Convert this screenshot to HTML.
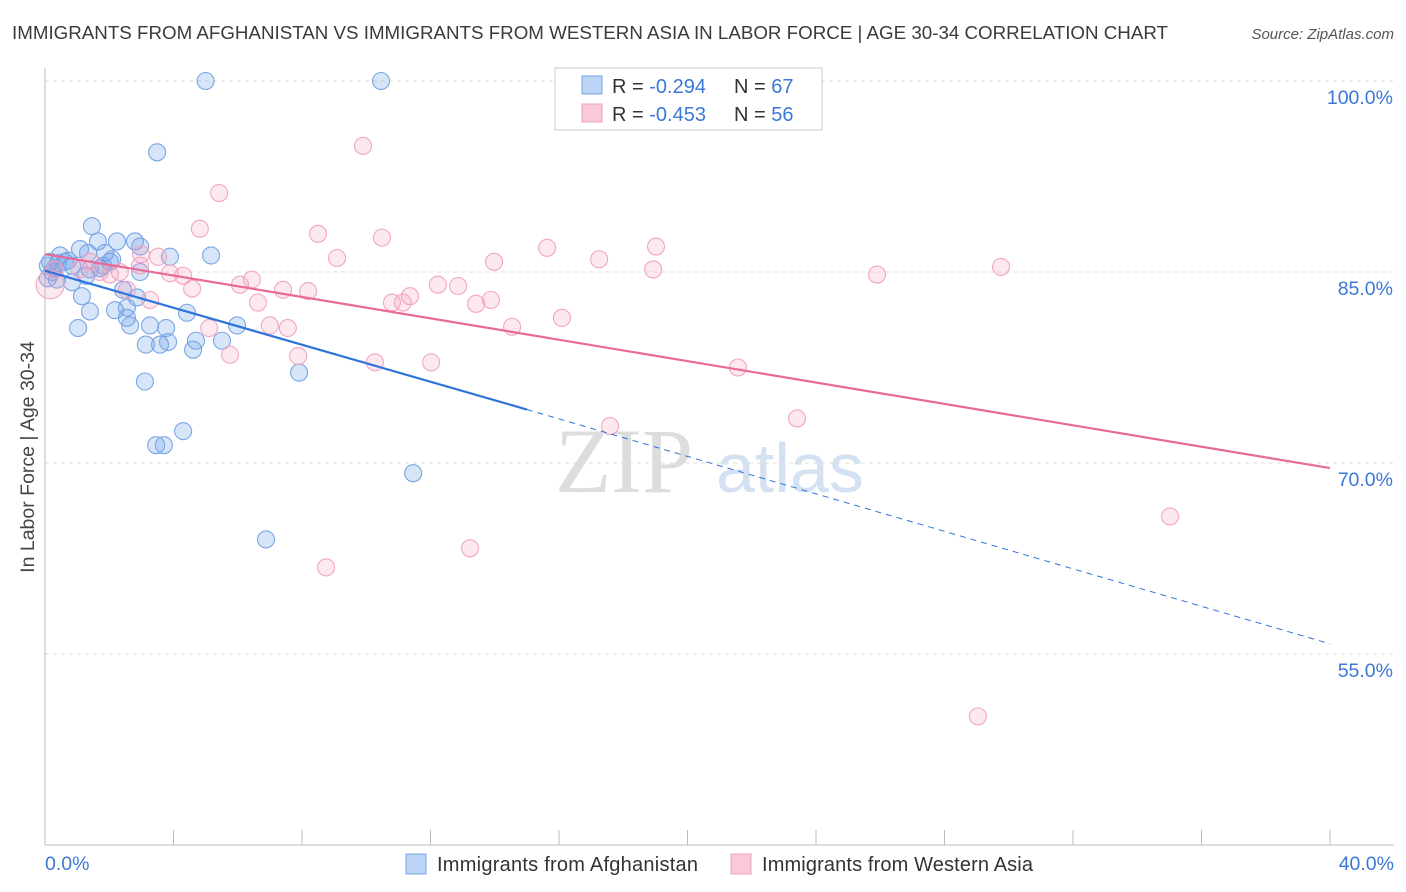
<!DOCTYPE html>
<html><head><meta charset="utf-8"><style>
body{margin:0;background:#fff;font-family:"Liberation Sans",sans-serif;}
svg{display:block}
</style></head><body>
<svg id="chart" width="1406" height="892" xmlns="http://www.w3.org/2000/svg">
<text x="12" y="39" font-size="18" textLength="1156" lengthAdjust="spacingAndGlyphs" fill="#3a3a3a" font-family="Liberation Sans, sans-serif">IMMIGRANTS FROM AFGHANISTAN VS IMMIGRANTS FROM WESTERN ASIA IN LABOR FORCE | AGE 30-34 CORRELATION CHART</text>
<text x="1394" y="39" font-size="15" fill="#555" text-anchor="end" font-style="italic">Source: ZipAtlas.com</text>
<text transform="translate(34,457) rotate(-90)" font-size="19.5" fill="#444" text-anchor="middle">In Labor Force | Age 30-34</text>
<text x="555" y="492" font-size="92" fill="#ddd" font-family="Liberation Serif, serif">ZIP</text>
<text x="716" y="492" font-size="70" fill="#d3e1f3">atlas</text>
<g id="grid"></g><g id="marks"></g><g id="trends"></g>
<g>
<rect x="555" y="68" width="267" height="62" fill="#fff" stroke="#ccc"/>
<rect x="582" y="76" width="20" height="18" fill="#bcd4f5" stroke="#7aa6e6"/>
<rect x="582" y="104" width="20" height="18" fill="#f9c9d8" stroke="#f0a0bc"/>
<text x="612" y="93" font-size="20" fill="#333">R = <tspan fill="#3b78d8">-0.294</tspan></text>
<text x="734" y="93" font-size="20" fill="#333">N = <tspan fill="#3b78d8">67</tspan></text>
<text x="612" y="121" font-size="20" fill="#333">R = <tspan fill="#3b78d8">-0.453</tspan></text>
<text x="734" y="121" font-size="20" fill="#333">N = <tspan fill="#3b78d8">56</tspan></text>
</g>
<g>
<rect x="406" y="854" width="20" height="20" fill="#bcd4f5" stroke="#7aa6e6"/>
<text x="437" y="871" font-size="20" textLength="261" fill="#333">Immigrants from Afghanistan</text>
<rect x="731" y="854" width="20" height="20" fill="#f9c9d8" stroke="#f0a0bc"/>
<text x="762" y="871" font-size="20" textLength="271" fill="#333">Immigrants from Western Asia</text>
</g>
</svg>
<script>
const yTicks=[100,85,70,55];
const xTickLabels=["0.0%","40.0%"];
const blueX=[5.0,10.46,3.49,1.46,2.24,2.80,2.96,3.89,5.17,1.65,1.09,0.47,0.16,0.31,0.62,0.84,1.34,1.87,2.09,1.71,1.40,2.96,0.09,0.37,0.84,1.28,2.43,2.86,1.15,1.40,2.18,2.55,2.55,2.65,4.42,3.27,3.77,5.98,1.03,3.14,3.58,3.83,4.70,5.51,4.61,3.11,7.91,4.30,3.46,3.70,11.46,6.88,0.09,0.22,0.40,0.72,1.81,2.02];
const blueY=[100,100,94.4,88.6,87.4,87.4,87.0,86.2,86.3,87.4,86.8,86.3,85.8,85.3,85.8,85.5,86.5,86.5,86.0,85.3,85.2,85.0,84.5,84.4,84.2,84.7,83.6,83.0,83.1,81.9,82.0,82.2,81.4,80.8,81.8,80.8,80.6,80.8,80.6,79.3,79.3,79.5,79.6,79.6,78.9,76.4,77.1,72.5,71.4,71.4,69.2,64.0,85.5,85.0,85.7,85.9,85.5,85.8];
const pinkX=[9.90,5.42,4.82,8.50,10.49,15.63,19.02,17.25,13.98,9.09,3.52,2.99,2.33,2.02,3.89,4.30,4.58,6.07,6.44,7.41,8.19,6.63,3.27,2.55,12.23,12.86,11.36,10.80,11.14,13.42,13.88,18.93,25.90,29.76,16.09,14.54,5.11,7.00,7.56,7.88,5.76,10.27,12.02,21.57,23.41,17.59,35.02,13.23,8.75,29.04,0.16,0.31,1.71,2.96,1.40,1.09];
const pinkY=[94.9,91.2,88.4,88.0,87.7,86.9,87.0,86.0,85.8,86.1,86.2,86.4,85.0,84.8,84.9,84.7,83.7,84.0,84.4,83.6,83.5,82.6,82.8,83.6,84.0,83.9,83.1,82.6,82.6,82.5,82.8,85.2,84.8,85.4,81.4,80.7,80.6,80.8,80.6,78.4,78.5,77.9,77.9,77.5,73.5,72.9,65.8,63.3,61.8,50.1,84.0,85.2,85.0,85.5,85.8,85.2];
const blueTrend=[85.1,74.2,55.8];
const blueTrendX=[0,15.0,40];
const pinkTrend=[86.4,69.6];
const pinkTrendX=[0,40];
const NS="http://www.w3.org/2000/svg";
const sx=v=>45+v*32.125, sy=v=>81+(100-v)*12.733;
function mk(t,a,p){const e=document.createElementNS(NS,t);for(const k in a)e.setAttribute(k,a[k]);p.appendChild(e);return e;}
const grid=document.getElementById('grid');
yTicks.forEach(v=>{
 const l=mk('line',{x1:45,x2:1394,y1:sy(v),y2:sy(v),stroke:'#ddd','stroke-dasharray':'4,4'},grid);
 
 
 const t=mk('text',{x:1393,y:sy(v)+23,'font-size':19.5,fill:'#3b78d8','text-anchor':'end'},grid);
 t.textContent=v.toFixed(1)+'%';
 
 
});
mk('line',{x1:45,x2:45,y1:68,y2:845,stroke:'#bbb'},grid);
mk('line',{x1:45,x2:1394,y1:845,y2:845,stroke:'#bbb'},grid);
for(let i=0;i<=10;i++){const x=sx(i*4);const t=mk('line',{x1:x,x2:x,y1:830,y2:845,stroke:'#bbb'},grid);}
[[0,'start',45],[40,'end',1394]].forEach((d,i)=>{const t=mk('text',{x:d[2],y:870,'font-size':19.5,fill:'#3b78d8','text-anchor':d[1]},grid);t.textContent=xTickLabels[i];});
const marks=document.getElementById('marks');
blueX.forEach((x,i)=>{const c=mk('circle',{cx:sx(x),cy:sy(blueY[i]),r:8.5,fill:'rgba(110,160,230,0.28)',stroke:'#7aa6e6','stroke-width':1.1},marks);
 
 });
pinkX.forEach((x,i)=>{const c=mk('circle',{cx:sx(x),cy:sy(pinkY[i]),r:i==50?14:8.5,fill:'rgba(240,150,180,0.22)',stroke:'#f2a6c0','stroke-width':1.1},marks);
 
 });
const tr=document.getElementById('trends');
const b1=mk('line',{x1:sx(blueTrendX[0]),y1:sy(blueTrend[0]),x2:sx(blueTrendX[1]),y2:sy(blueTrend[1]),stroke:'#2f74d8','stroke-width':2.2},tr);


const b2=mk('line',{x1:sx(blueTrendX[1]),y1:sy(blueTrend[1]),x2:sx(blueTrendX[2]),y2:sy(blueTrend[2]),stroke:'#2f74d8','stroke-width':1,'stroke-dasharray':'6,5'},tr);


const p1=mk('line',{x1:sx(pinkTrendX[0]),y1:sy(pinkTrend[0]),x2:sx(pinkTrendX[1]),y2:sy(pinkTrend[1]),stroke:'#e8699a','stroke-width':2.2},tr);


</script>
</body></html>
